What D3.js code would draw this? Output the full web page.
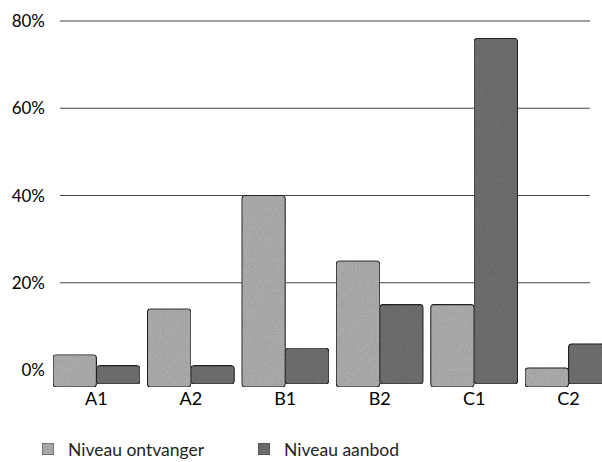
<!DOCTYPE html>
<html>
<head>
<script src="https://d3js.org/d3.v7.min.js"></script>
<style>
  body { margin: 0; background: #fff; }
  svg { display: block; font-family: Lato, "Open Sans", sans-serif; }
</style>
</head>
<body>
<svg class="chart" width="602" height="462"></svg>
<script>
const categories = ["A1", "A2", "B1", "B2", "C1", "C2"];
const seriesNames = ["Niveau ontvanger", "Niveau aanbod"];
const ontvanger = [3.5, 14, 40, 25, 15, 0.5];
const aanbod = [1, 1, 5, 15, 76, 6];
const yTicks = [0, 20, 40, 60, 80];

const colors = ["#a9a9a9", "#6c6c6c"];
const svg = d3.select(".chart");

// scan-like grain
const defs = svg.append("defs");
const f = defs.append("filter").attr("id", "grain").attr("x", 0).attr("y", 0).attr("width", 1).attr("height", 1);
f.append("feTurbulence").attr("type", "fractalNoise").attr("baseFrequency", 1.1).attr("numOctaves", 2).attr("seed", 3).attr("result", "n");
f.append("feColorMatrix").attr("in", "n").attr("type", "saturate").attr("values", 0).attr("result", "gn");
f.append("feComponentTransfer").attr("in", "gn").attr("result", "gc")
  .call(s => ["feFuncR", "feFuncG", "feFuncB"].forEach(k => s.append(k).attr("type", "linear").attr("slope", 1.6).attr("intercept", 0.2)));
f.append("feBlend").attr("in", "SourceGraphic").attr("in2", "gc").attr("mode", "multiply").attr("result", "b");
f.append("feComposite").attr("in", "b").attr("in2", "SourceGraphic").attr("operator", "in");

const y = d3.scaleLinear().domain([0, 80]).range([370, 21]);
const x = d3.scaleBand().domain(categories).range([53, 612]).paddingInner(0.08).paddingOuter(0);
const floorY = 387;

// gridlines (back wall)
svg.append("g").selectAll("line")
  .data(yTicks.filter(d => d > 0))
  .join("line")
  .attr("x1", 60).attr("x2", 590)
  .attr("y1", d => y(d)).attr("y2", d => y(d))
  .attr("stroke", "#444").attr("stroke-width", 1.1);

// y axis labels
svg.append("g").selectAll("text")
  .data(yTicks)
  .join("text")
  .attr("x", 45).attr("y", d => y(d) + 6)
  .attr("text-anchor", "end")
  .attr("font-size", 17)
  .attr("fill", "#000")
  .text(d => d + "%");

const bw = x.bandwidth() / 2;
const data = categories.map((c, i) => ({ c, vals: [ontvanger[i], aanbod[i]] }));

const bars = svg.append("g");
data.forEach(d => {
  d.vals.forEach((v, s) => {
    const x0 = x(d.c) + s * bw;
    const bottom = floorY - (s === 1 ? 3 : 0);
    const top = Math.min(y(v), bottom - 8);
    bars.append("rect")
      .attr("x", x0).attr("y", top)
      .attr("width", bw).attr("height", bottom - top)
      .attr("rx", 3)
      .attr("fill", colors[s])
      .attr("stroke", "#222").attr("stroke-width", 1.2)
      .attr("filter", "url(#grain)");
  });
});

// category labels
svg.append("g").selectAll("text")
  .data(categories)
  .join("text")
  .attr("x", d => x(d) + bw)
  .attr("y", 405)
  .attr("text-anchor", "middle")
  .attr("font-size", 18)
  .attr("fill", "#000")
  .text(d => d);

// legend
const legendX = [42, 258];
const lg = svg.append("g").selectAll("g")
  .data(seriesNames)
  .join("g")
  .attr("transform", (d, i) => `translate(${legendX[i]},443)`);
lg.append("rect")
  .attr("width", 12).attr("height", 12)
  .attr("fill", (d, i) => colors[i])
  .attr("stroke", "#444")
  .attr("filter", "url(#grain)");
lg.append("text")
  .attr("x", 26).attr("y", 13)
  .attr("font-size", 17.5)
  .attr("fill", "#222")
  .text(d => d);
</script>
</body>
</html>
